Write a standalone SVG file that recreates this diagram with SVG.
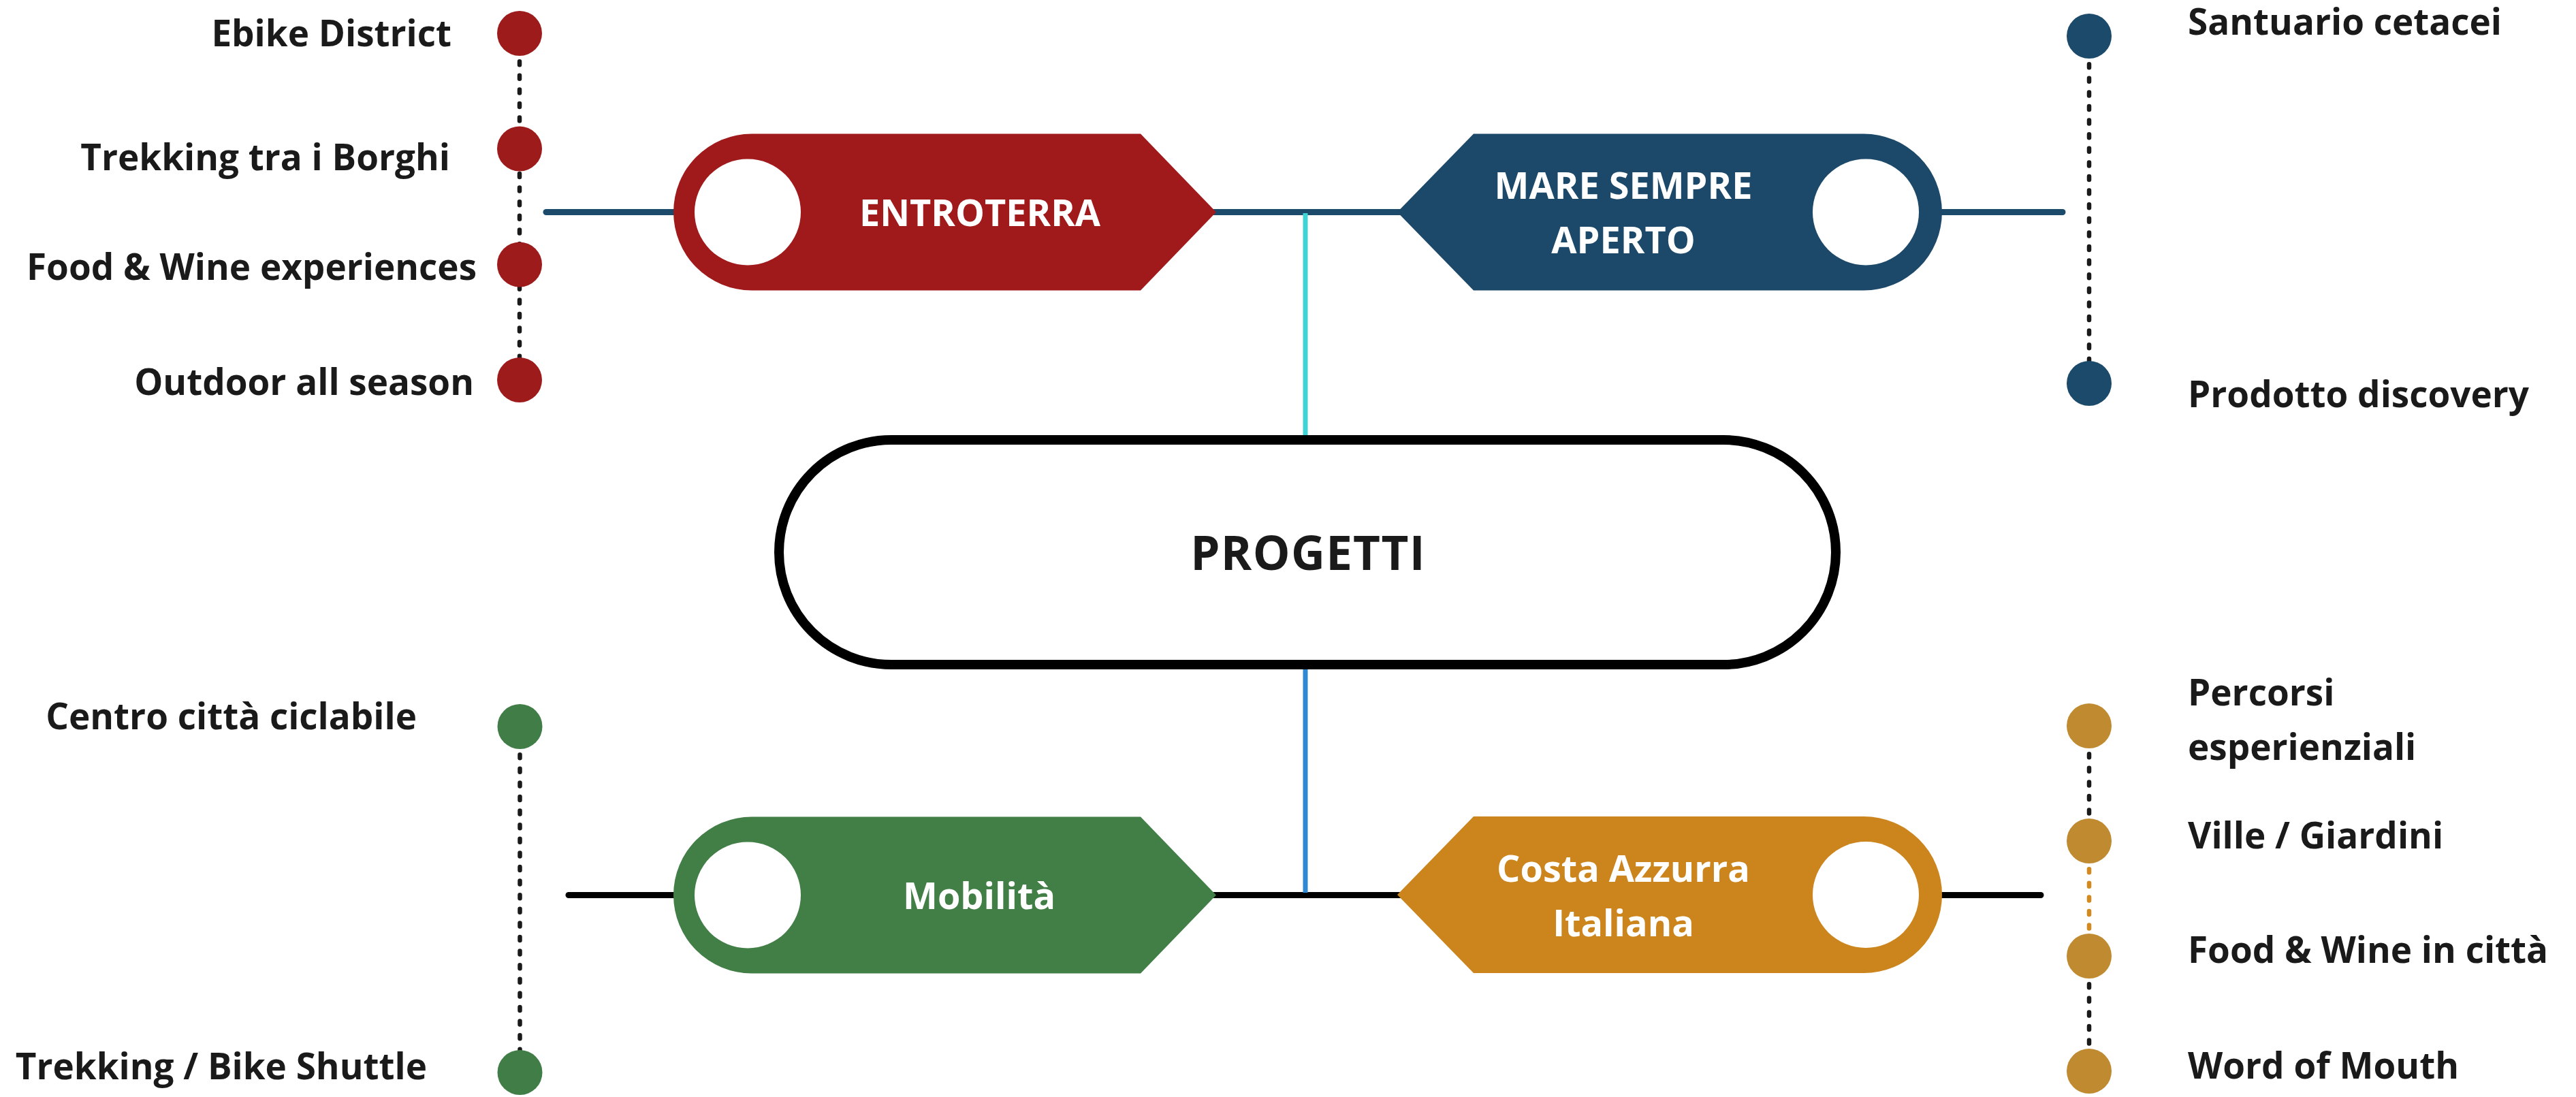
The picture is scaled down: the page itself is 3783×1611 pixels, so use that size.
<svg xmlns="http://www.w3.org/2000/svg" width="3783" height="1611" viewBox="0 0 3783 1611">
<style>
.lbl{font-family:"Open Sans","Noto Sans",sans-serif;font-weight:700;font-size:53px;fill:#1a1a1a}
.in{font-family:"Open Sans","Noto Sans",sans-serif;font-weight:700;font-size:54px;fill:#ffffff;text-anchor:middle}
.end{text-anchor:end}
.dot{stroke:#1a1a1a;stroke-width:6.5;stroke-dasharray:5 15.6;stroke-linecap:round;fill:none}
.hole{fill:#ffffff}
</style>
<rect width="3783" height="1611" fill="#ffffff"/>
<g id="connectors">
  <line x1="802" y1="311.5" x2="3029" y2="311.5" stroke="#1c4a6b" stroke-width="9" stroke-linecap="round"/>
  <line x1="835" y1="1314.5" x2="2997" y2="1314.5" stroke="#000000" stroke-width="9" stroke-linecap="round"/>
  <line x1="1917" y1="313" x2="1917" y2="640" stroke="#3fd3d6" stroke-width="7"/>
  <line x1="1917" y1="982" x2="1917" y2="1311" stroke="#2f88d2" stroke-width="7"/>
  <line class="dot" x1="763" y1="49" x2="763" y2="558"/>
  <line class="dot" x1="3068" y1="53" x2="3068" y2="563"/>
  <line class="dot" x1="763.5" y1="1067" x2="763.5" y2="1575"/>
  <line class="dot" x1="3068" y1="1066" x2="3068" y2="1235"/>
  <line class="dot" x1="3068" y1="1235" x2="3068" y2="1404" style="stroke:#d4891e"/>
  <line class="dot" x1="3068" y1="1404" x2="3068" y2="1573"/>
</g>
<g id="entroterra">
  <path d="M1104,196.5 L1675,196.5 L1786,311.5 L1675,426.5 L1104,426.5 A115,115 0 0 1 1104,196.5 Z" fill="#a0191b"/>
  <circle class="hole" cx="1098" cy="311.5" r="78"/>
  <text class="in" x="1439" y="331.5">ENTROTERRA</text>
</g>
<g id="mare">
  <path d="M2052,311.5 L2164,196.5 L2737,196.5 A115,115 0 0 1 2737,426.5 L2164,426.5 Z" fill="#1c4969"/>
  <circle class="hole" cx="2740" cy="311.5" r="78"/>
  <text class="in" x="2384" y="291.5">MARE SEMPRE</text>
  <text class="in" x="2384" y="371.5">APERTO</text>
</g>
<g id="mobilita">
  <path d="M1104,1199.5 L1675,1199.5 L1786,1314.5 L1675,1429.5 L1104,1429.5 A115,115 0 0 1 1104,1199.5 Z" fill="#417f47"/>
  <circle class="hole" cx="1098" cy="1314.5" r="78"/>
  <text class="in" x="1438" y="1334.5">Mobilità</text>
</g>
<g id="costa">
  <path d="M2052,1314 L2164,1199 L2737,1199 A115,115 0 0 1 2737,1429 L2164,1429 Z" fill="#cc851d"/>
  <circle class="hole" cx="2740" cy="1314" r="78"/>
  <text class="in" x="2384" y="1295">Costa Azzurra</text>
  <text class="in" x="2384" y="1375">Italiana</text>
</g>
<g id="progetti">
  <rect x="1144" y="646" width="1552" height="330" rx="165" ry="165" fill="#ffffff" stroke="#000000" stroke-width="14"/>
  <text x="1921" y="836.5" text-anchor="middle" style="font-family:'Open Sans','Noto Sans',sans-serif;font-weight:700;font-size:69px;letter-spacing:1.3px;fill:#1a1a1a">PROGETTI</text>
</g>
<g id="entroterra-items">
  <circle cx="763" cy="49" r="33" fill="#9e1b1c"/>
  <circle cx="763" cy="218.5" r="33" fill="#9e1b1c"/>
  <circle cx="763" cy="388.5" r="33" fill="#9e1b1c"/>
  <circle cx="763" cy="558" r="33" fill="#9e1b1c"/>
  <text class="lbl end" x="663" y="68">Ebike District</text>
  <text class="lbl end" x="661" y="250">Trekking tra i Borghi</text>
  <text class="lbl end" x="700" y="411">Food &amp; Wine experiences</text>
  <text class="lbl end" x="696" y="580">Outdoor all season</text>
</g>
<g id="mare-items">
  <circle cx="3068" cy="53" r="33" fill="#1c4a6b"/>
  <circle cx="3068" cy="563" r="33" fill="#1c4a6b"/>
  <text class="lbl" x="3213" y="51">Santuario cetacei</text>
  <text class="lbl" x="3213" y="598">Prodotto discovery</text>
</g>
<g id="mobilita-items">
  <circle cx="763.5" cy="1067" r="33" fill="#407d47"/>
  <circle cx="763.5" cy="1575" r="33" fill="#407d47"/>
  <text class="lbl end" x="612" y="1071">Centro città ciclabile</text>
  <text class="lbl end" x="627" y="1585">Trekking / Bike Shuttle</text>
</g>
<g id="costa-items">
  <circle cx="3068" cy="1066" r="33" fill="#bf8a30"/>
  <circle cx="3068" cy="1235" r="33" fill="#bf8a30"/>
  <circle cx="3068" cy="1404" r="33" fill="#bf8a30"/>
  <circle cx="3068" cy="1573" r="33" fill="#bf8a30"/>
  <text class="lbl" x="3213" y="1036">Percorsi</text>
  <text class="lbl" x="3213" y="1116">esperienziali</text>
  <text class="lbl" x="3213" y="1246">Ville / Giardini</text>
  <text class="lbl" x="3213" y="1414">Food &amp; Wine in città</text>
  <text class="lbl" x="3213" y="1584">Word of Mouth</text>
</g>
</svg>
